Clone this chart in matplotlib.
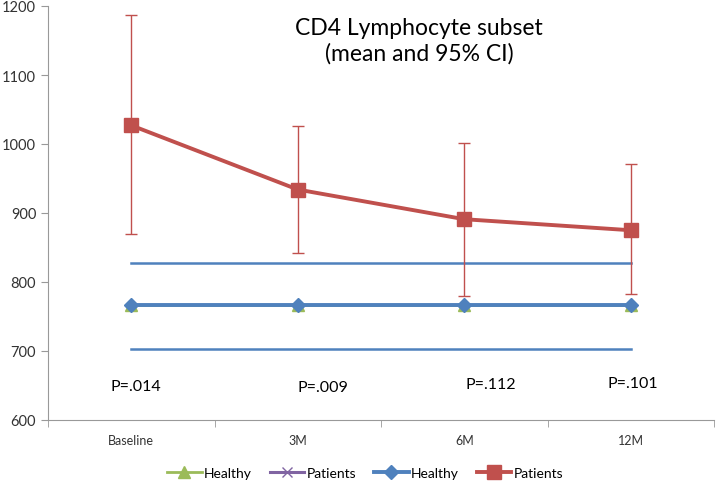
import matplotlib
matplotlib.use("Agg")
import matplotlib.pyplot as plt
import numpy as np

plt.rcParams['font.family'] = ['Lato', 'DejaVu Sans']

categories = ["Baseline", "3M", "6M", "12M"]
patients_mean = [1027, 934, 891, 875]
patients_upper = [1187, 1026, 1001, 971]
patients_lower = [870, 842, 780, 783]
healthy_mean = [767, 767, 767, 767]
healthy_tri = [766, 766, 766, 766]
healthy_upper = [827, 827, 827, 827]
healthy_lower = [703, 703, 703, 703]
p_labels = ["P=.014", "P=.009", "P=.112", "P=.101"]
p_y = [649, 648, 652, 653]
p_x_offset = [0.03, 0.15, 0.16, 0.01]

RED = "#C0504D"
BLUE = "#4F81BD"
GREEN = "#9BBB59"
PURPLE = "#8064A2"

fig = plt.figure(figsize=(7.16, 4.85), dpi=100)
ax = fig.add_axes([48/716, 1-421/485, 666/716, 414/485])
x = np.arange(len(categories))

ax.plot(x, healthy_upper, color=BLUE, lw=1.8, zorder=2)
ax.plot(x, healthy_lower, color=BLUE, lw=1.8, zorder=2)
h1, = ax.plot(x, healthy_tri, color=GREEN, marker='^', ms=9, lw=2.0, label="Healthy", zorder=3)
h2, = ax.plot([], [], color=PURPLE, marker='x', ms=7, lw=2.2, label="Patients")
h3, = ax.plot(x, healthy_mean, color=BLUE, marker='D', ms=7, lw=2.8, label="Healthy", zorder=4)
pm = np.array(patients_mean)
yerr = [pm - np.array(patients_lower), np.array(patients_upper) - pm]
ax.errorbar(x, pm, yerr=yerr, fmt='none', ecolor=RED, elinewidth=1.0, capsize=4, capthick=1.0, zorder=5)
h4, = ax.plot(x, pm, color=RED, marker='s', ms=10, lw=2.8, label="Patients", zorder=6)

for xi, lab, yy, off in zip(x, p_labels, p_y, p_x_offset):
    ax.text(xi + off, yy, lab, ha='center', va='center', fontsize=11.5)

fig.text(419/716, 1-18/485, "CD4 Lymphocyte subset\n(mean and 95% CI)",
         ha='center', va='top', fontsize=16.5, linespacing=1.25)

ax.set_xlim(-0.5, 3.5)
ax.set_ylim(600, 1200)
ax.set_yticks(np.arange(600, 1201, 100))
ax.set_xticks(x)
ax.set_xticklabels(categories, fontsize=9, color="#333333")
ax.set_xticks(np.arange(-0.5, 3.6, 1), minor=True)
ax.tick_params(axis='x', which='major', length=0, pad=10)
ax.tick_params(axis='x', which='minor', length=5, color="#999999")
ax.tick_params(axis='y', length=5, color="#999999", labelsize=10.5, labelcolor="#333333")
for s in ['top', 'right']:
    ax.spines[s].set_visible(False)
for s in ['left', 'bottom']:
    ax.spines[s].set_color("#999999")

fig.legend(handles=[h1, h2, h3, h4], loc='center', bbox_to_anchor=(365/716, 1-474/485), ncol=4,
           frameon=False, fontsize=10, handlelength=2.5, columnspacing=1.3, handletextpad=0.15)

fig.savefig("out.png", dpi=100)
